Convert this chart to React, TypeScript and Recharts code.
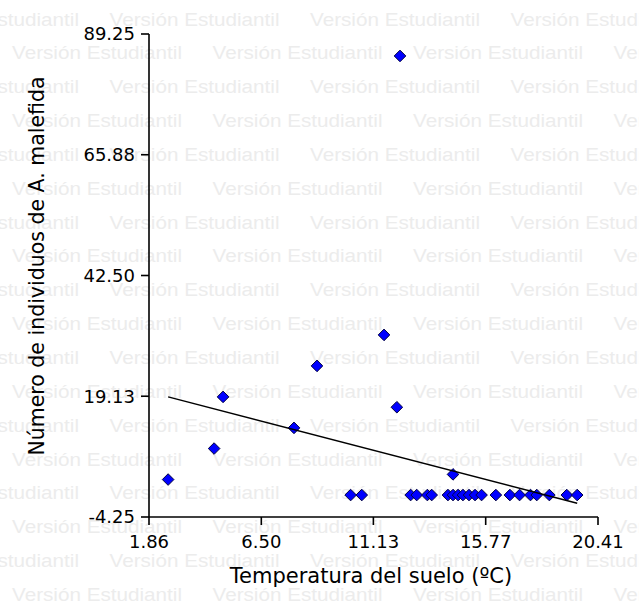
import { ScatterChart, Scatter, XAxis, YAxis } from 'recharts'

// Temperatura del suelo (ºC) vs número de individuos
const temperatura = [
  2.65, 4.55, 4.92, 7.85, 8.8, 11.57, 12.1, 12.23, 14.42,
  10.19, 10.65, 12.67, 12.92, 13.36, 13.54, 14.21, 14.42, 14.63, 14.83, 15.08,
  15.33, 15.6, 16.19, 16.77, 17.17, 17.62, 17.88, 18.4, 19.12, 19.55,
]
const individuos = [
  3, 9, 19, 13, 25, 31, 17, 85, 4,
  0, 0, 0, 0, 0, 0, 0, 0, 0, 0, 0,
  0, 0, 0, 0, 0, 0, 0, 0, 0, 0,
]

// recta de ajuste
const ajusteX = [2.65, 19.55]
const ajusteY = [19.0, -1.6]

const xTicks = [1.86, 6.5, 11.13, 15.77, 20.41]
const yTicks = [-4.25, 19.13, 42.5, 65.88, 89.25]

const puntos = temperatura.map((t, i) => ({ x: t, y: individuos[i] }))
const ajuste = ajusteX.map((t, i) => ({ x: t, y: ajusteY[i] }))

const FONT = 'DejaVu Sans'

const Diamond = (props: any) => {
  const { cx, cy } = props
  const r = 5.8
  return (
    <polygon
      points={`${cx},${cy - r} ${cx + r},${cy} ${cx},${cy + r} ${cx - r},${cy}`}
      fill="#0000ff"
      stroke="#000040"
      strokeWidth={1}
    />
  )
}

const Watermark = () => {
  const rows = []
  for (let i = 0; i < 18; i++) {
    const y = 25.5 + i * 33.85
    const start = i % 2 === 0 ? -91 : 12
    for (let k = 0; k < 4; k++) {
      rows.push(
        <text
          key={`${i}-${k}`}
          x={start + k * 200.5}
          y={y}
          fontFamily="Liberation Sans"
          fontSize={19}
          fill="#ececec"
          textLength={170}
          lengthAdjust="spacingAndGlyphs"
        >
          Versión Estudiantil
        </text>
      )
    }
  }
  return <>{rows}</>
}

export default function App() {
  return (
    <div style={{ position: 'absolute', left: 0, top: 0, width: 639, height: 605, background: '#fff' }}>
      <svg style={{ position: 'absolute', left: 0, top: 0 }} width={639} height={605}>
        <Watermark />
        <text x={371} y={583} textAnchor="middle" fontFamily={FONT} fontSize={21} fill="#000">
          Temperatura del suelo (ºC)
        </text>
        <text
          x={44}
          y={266}
          textAnchor="middle"
          fontFamily={FONT}
          fontSize={20.5}
          fill="#000"
          transform="rotate(-90 44 266)"
        >
          Número de individuos de A. malefida
        </text>
      </svg>
      <div style={{ position: 'absolute', left: 0, top: 0 }}>
        <ScatterChart width={639} height={605} margin={{ top: 34, right: 41, bottom: 0, left: 0 }}>
          <XAxis
            type="number"
            dataKey="x"
            domain={[1.86, 20.41]}
            ticks={xTicks}
            interval={0}
            height={88}
            tickSize={8}
            tickMargin={10}
            tickFormatter={(v: number) => v.toFixed(2)}
            axisLine={{ stroke: '#000', strokeWidth: 1.6 }}
            tickLine={{ stroke: '#000', strokeWidth: 1.6 }}
            tick={{ fill: '#000', fontSize: 18, fontFamily: FONT }}
            allowDataOverflow
          />
          <YAxis
            type="number"
            dataKey="y"
            domain={[-4.25, 89.25]}
            ticks={yTicks}
            interval={0}
            width={149}
            tickSize={8}
            tickMargin={6}
            tickFormatter={(v: number) => v.toFixed(2)}
            axisLine={{ stroke: '#000', strokeWidth: 1.6 }}
            tickLine={{ stroke: '#000', strokeWidth: 1.6 }}
            tick={{ fill: '#000', fontSize: 18, fontFamily: FONT }}
            allowDataOverflow
          />
          <Scatter data={puntos} shape={Diamond} isAnimationActive={false} />
          <Scatter
            data={ajuste}
            line={{ stroke: '#000', strokeWidth: 1.5 }}
            shape={() => <g />}
            isAnimationActive={false}
          />
        </ScatterChart>
      </div>
    </div>
  )
}
